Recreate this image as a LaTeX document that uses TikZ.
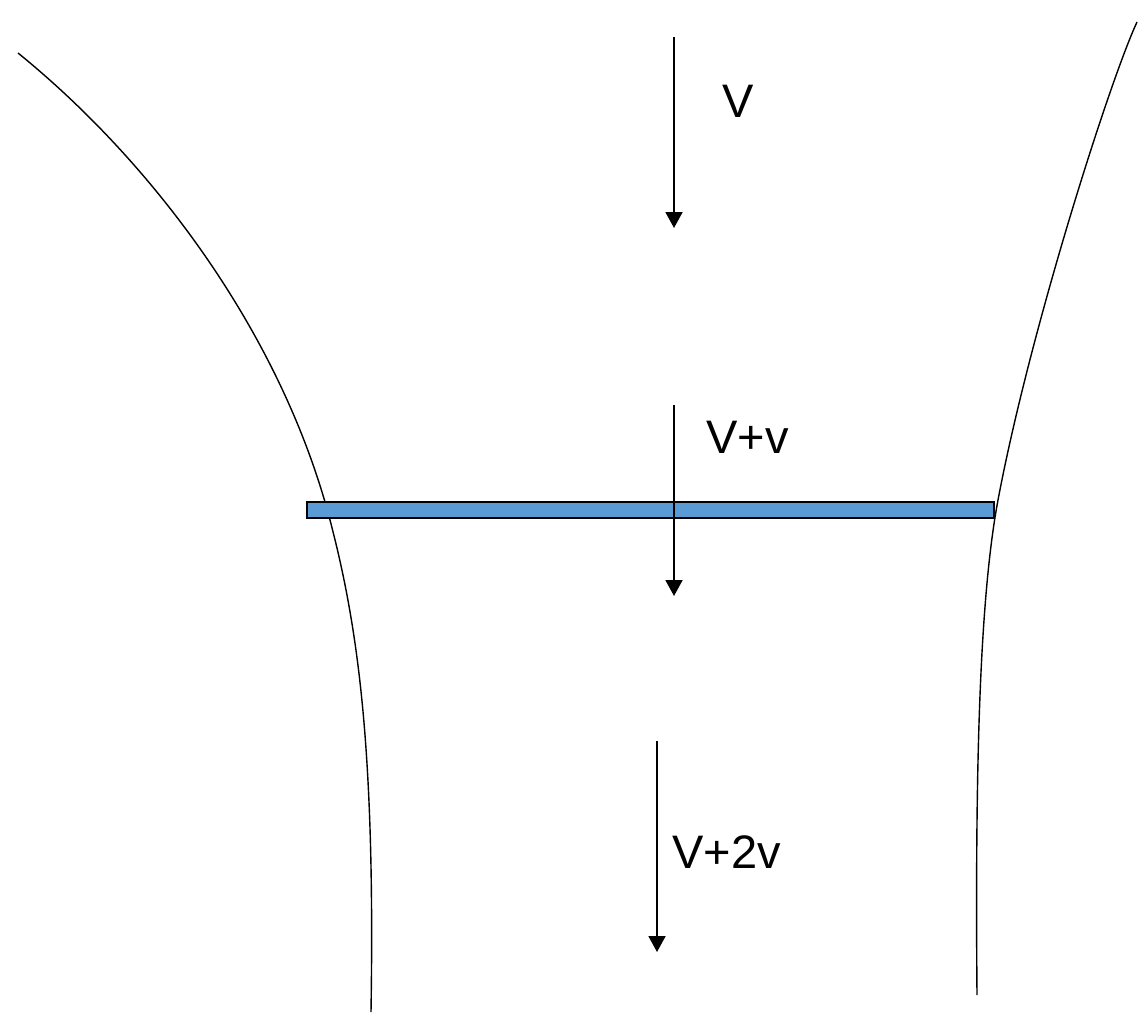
\documentclass[tikz,border=0pt]{standalone}
\usepackage{fontspec}
\setmainfont{Liberation Sans}
\usetikzlibrary{arrows.meta}
\definecolor{plateblue}{HTML}{5B9BD5}
\begin{document}
\begin{tikzpicture}[x=1pt,y=-1pt,
  flow/.style={line width=1.9pt,-{Triangle[width=17pt,length=16pt]}},
  bank/.style={line width=1.4pt},
  lbl/.style={font=\fontsize{47}{50}\selectfont,anchor=base west,inner sep=0pt}]
\useasboundingbox (0,0) rectangle (1138,1013);
% banks
\draw[bank] (18,53) .. controls (150,160) and (280,330) .. (330,520)
  .. controls (360,634) and (375,760) .. (371,1012);
\draw[bank] (1137,22) .. controls (1110,80) and (1030,330) .. (998,500)
  .. controls (980,596) and (975,760) .. (977,995);
% plate
\node[draw=black,line width=1.8pt,fill=plateblue,minimum width=687pt,minimum height=16pt,inner sep=0pt,anchor=north west] (plate) at (306,501) {};
% arrows
\coordinate (a1s) at (674,37); \coordinate (a1e) at (674,228);
\coordinate (a2s) at (674,405); \coordinate (a2e) at (674,596);
\coordinate (a3s) at (657,741); \coordinate (a3e) at (657,952);
\draw[flow] (a1s) -- (a1e);
\draw[flow] (a2s) -- (a2e);
\draw[flow] (a3s) -- (a3e);
% labels
\node[lbl] (l1) at (722,117) {V};
\node[lbl] (l2) at (706,453) {V+v};
\node[lbl] (l3) at (672,868) {V+2v};
\end{tikzpicture}
\end{document}
